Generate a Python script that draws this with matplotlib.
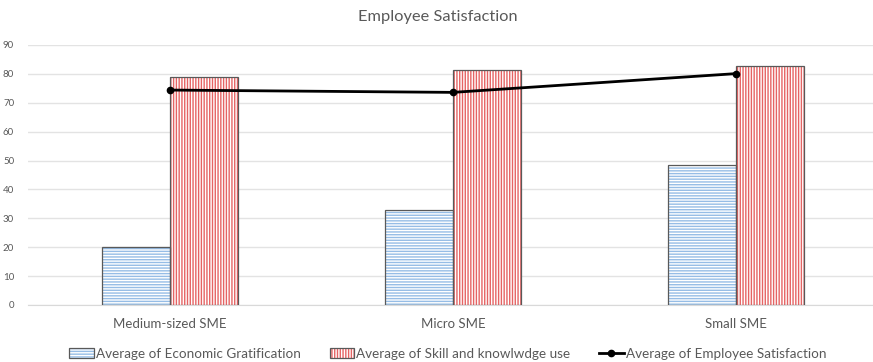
import matplotlib.pyplot as plt
import numpy as np
from matplotlib.patches import Patch
from matplotlib.lines import Line2D

categories = ["Medium-sized SME", "Micro SME", "Small SME"]
economic_gratification = [20, 33, 48.3]
skill_knowledge_use = [79, 81.4, 82.6]
employee_satisfaction = [74.4, 73.6, 80.1]
y_ticks = [0, 10, 20, 30, 40, 50, 60, 70, 80, 90]

plt.rcParams['font.family'] = ['Lato', 'DejaVu Sans']
plt.rcParams['hatch.linewidth'] = 1.0

BLUE = "#96BDE6"
RED = "#E66464"
EDGE = "#595959"
TEXT = "#595959"

fig = plt.figure(figsize=(8.73, 3.62), dpi=100)
ax = fig.add_axes([28 / 873, 57 / 362, 850 / 873, 260 / 362])

x = np.arange(len(categories))
w = 0.24

# hatch layers (hatch colour follows edgecolor), then outlines on top
ax.bar(x - w / 2, economic_gratification, w, facecolor="white", edgecolor=BLUE,
       hatch="------", linewidth=0, zorder=2)
ax.bar(x + w / 2, skill_knowledge_use, w, facecolor="white", edgecolor=RED,
       hatch="||||||", linewidth=0, zorder=2)
ax.bar(x - w / 2, economic_gratification, w, fill=False, edgecolor=EDGE,
       linewidth=0.9, zorder=3)
ax.bar(x + w / 2, skill_knowledge_use, w, fill=False, edgecolor=EDGE,
       linewidth=0.9, zorder=3)

ax.plot(x, employee_satisfaction, color="black", linewidth=2.0, marker="o",
        markersize=4.5, zorder=4)

ax.set_xlim(-0.5, 2.5)
ax.set_ylim(0, 90)
ax.set_yticks(y_ticks)
ax.set_yticklabels([str(t) for t in y_ticks], fontsize=7, color=TEXT)
ax.set_xticks(x)
ax.set_xticklabels(categories, fontsize=9.5, color=TEXT)
ax.tick_params(axis="both", length=0)
ax.tick_params(axis="y", pad=10)
ax.tick_params(axis="x", pad=9)
ax.grid(axis="y", color="#E3E3E3", linewidth=1.0, zorder=0)
ax.set_axisbelow(True)
for s in ["top", "right", "left"]:
    ax.spines[s].set_visible(False)
ax.spines["bottom"].set_color("#D9D9D9")

fig.text(0.502, 0.952, "Employee Satisfaction", ha="center", va="center",
         fontsize=11.8, color=TEXT)

h1 = (Patch(facecolor="white", edgecolor=BLUE, hatch="------", linewidth=0),
      Patch(fill=False, edgecolor=EDGE, linewidth=0.9))
h2 = (Patch(facecolor="white", edgecolor=RED, hatch="||||||", linewidth=0),
      Patch(fill=False, edgecolor=EDGE, linewidth=0.9))
h3 = Line2D([], [], color="black", linewidth=2.0, marker="o", markersize=4.5)
fig.legend([h1, h2, h3],
           ["Average of Economic Gratification",
            "Average of Skill and knowlwdge use",
            "Average of Employee Satisfaction"],
           loc="center", bbox_to_anchor=(0.513, 0.022), ncol=3, frameon=False,
           fontsize=9.7, labelcolor=TEXT, handlelength=1.85, handletextpad=0.15,
           columnspacing=2.1, handleheight=0.75, borderpad=0.2)

fig.savefig("out.png", dpi=100)
